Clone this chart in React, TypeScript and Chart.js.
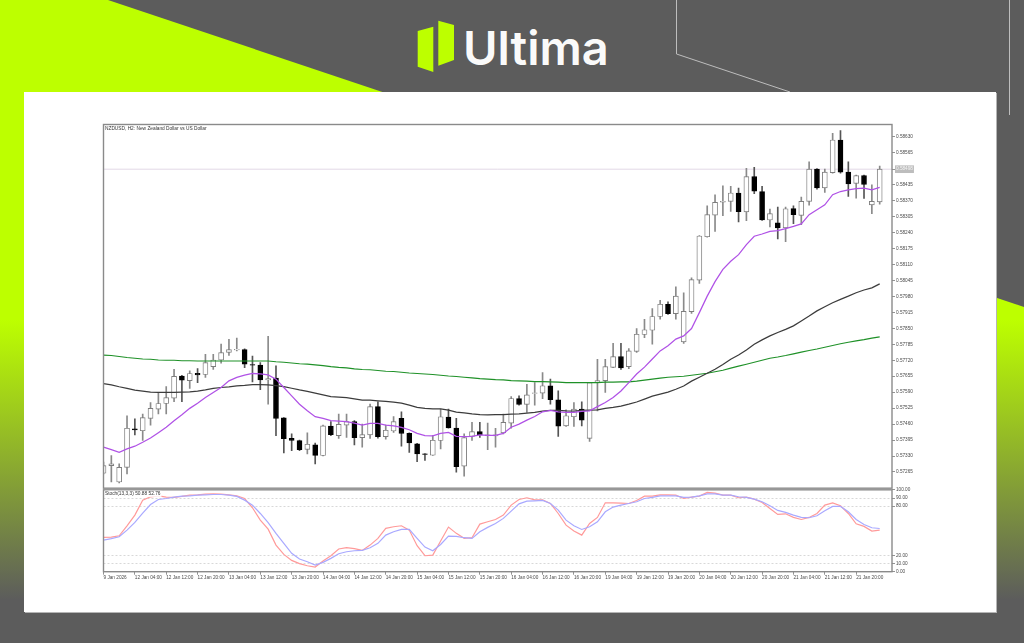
import React, { useEffect, useRef } from "react";
import { Chart, registerables } from "chart.js";

Chart.register(...registerables);

const chartTitle = "NZDUSD, H2: New Zealand Dollar vs US Dollar";
const stochTitle = "Stoch(13,3,3) 50.88 52.76";
const brandName = "Ultima";

const opens = [
  0.5726, 0.57291, 0.57224, 0.57284, 0.57441, 0.57433, 0.57483, 0.57521, 0.57544, 0.57566,
  0.57655, 0.57637, 0.57667, 0.57662, 0.57694, 0.57721, 0.57752, 0.57762, 0.57763, 0.57702,
  0.577, 0.5764, 0.57647, 0.57485, 0.57402, 0.57393, 0.57357, 0.57376, 0.57332, 0.57452,
  0.57413, 0.57456, 0.5747, 0.57405, 0.57416, 0.57531, 0.57409, 0.57432, 0.57483, 0.57422,
  0.5738, 0.57339, 0.57333, 0.57393, 0.57489, 0.57444, 0.57289, 0.5741, 0.57429, 0.57413,
  0.57412, 0.57424, 0.57464, 0.57564, 0.5754, 0.57585, 0.57586, 0.57616, 0.57559, 0.57453,
  0.5749, 0.57521, 0.57402, 0.57629, 0.57637, 0.57691, 0.57735, 0.57694, 0.57756, 0.57825,
  0.57842, 0.57898, 0.57948, 0.5791, 0.57795, 0.57918, 0.58046, 0.58223, 0.58311, 0.58364,
  0.58367, 0.58401, 0.58324, 0.58468, 0.58407, 0.58291, 0.5828, 0.58259, 0.58338, 0.5831,
  0.58367, 0.58498, 0.58422, 0.58484, 0.58617, 0.58486, 0.5844, 0.58472, 0.58353, 0.58365,
];
const highs = [
  0.57305, 0.57332, 0.57298, 0.57494, 0.57481, 0.57501, 0.57548, 0.57589, 0.57613, 0.57683,
  0.57659, 0.57677, 0.57686, 0.57744, 0.57744, 0.57786, 0.57805, 0.5781, 0.57766, 0.57737,
  0.5771, 0.57817, 0.57697, 0.57487, 0.5742, 0.57395, 0.57424, 0.57383, 0.57456, 0.5747,
  0.57501, 0.57501, 0.57474, 0.5746, 0.57541, 0.57551, 0.57456, 0.57491, 0.5751, 0.57424,
  0.57382, 0.5734, 0.57413, 0.57521, 0.57521, 0.57483, 0.5742, 0.57467, 0.57467, 0.57464,
  0.57443, 0.57501, 0.57572, 0.57575, 0.57622, 0.57629, 0.5767, 0.57643, 0.57595, 0.57518,
  0.57548, 0.57551, 0.5763, 0.57724, 0.57724, 0.57789, 0.57789, 0.57767, 0.57849, 0.57887,
  0.5793, 0.57964, 0.57958, 0.58019, 0.57995, 0.58056, 0.58228, 0.58349, 0.58394, 0.5843,
  0.58428, 0.58421, 0.58502, 0.58506, 0.58428, 0.58336, 0.58344, 0.58344, 0.58349, 0.58384,
  0.58528, 0.58501, 0.58498, 0.58644, 0.58655, 0.58528, 0.58474, 0.58474, 0.58434, 0.58511,
];
const lows = [
  0.57257, 0.57224, 0.5722, 0.57257, 0.57416, 0.57393, 0.57456, 0.57501, 0.57501, 0.57551,
  0.57551, 0.57605, 0.57629, 0.5765, 0.57683, 0.57708, 0.5774, 0.57758, 0.5769, 0.57632,
  0.576, 0.57541, 0.57413, 0.57343, 0.57352, 0.57352, 0.57339, 0.57298, 0.5733, 0.57413,
  0.57402, 0.57406, 0.57375, 0.57366, 0.57402, 0.57403, 0.57399, 0.57426, 0.5737, 0.57345,
  0.57307, 0.57312, 0.57332, 0.57359, 0.57443, 0.57264, 0.57248, 0.57393, 0.57406, 0.57356,
  0.57366, 0.5742, 0.57443, 0.57537, 0.57508, 0.57537, 0.57564, 0.57541, 0.5741, 0.57451,
  0.57451, 0.57453, 0.57389, 0.57514, 0.57589, 0.5769, 0.57683, 0.57686, 0.57752, 0.57812,
  0.57785, 0.57887, 0.57907, 0.57887, 0.57789, 0.57911, 0.58033, 0.58221, 0.58245, 0.58309,
  0.58326, 0.58283, 0.58288, 0.58398, 0.58289, 0.58263, 0.58214, 0.58203, 0.58276, 0.58272,
  0.58351, 0.58417, 0.58403, 0.58482, 0.58482, 0.58387, 0.5838, 0.58379, 0.58317, 0.58356,
];
const closes = [
  0.57291, 0.57298, 0.57284, 0.57443, 0.57436, 0.57486, 0.57524, 0.57544, 0.57568, 0.57654,
  0.57639, 0.57666, 0.5766, 0.5771, 0.57721, 0.57751, 0.57763, 0.57764, 0.57704, 0.577,
  0.5764, 0.57645, 0.57483, 0.57401, 0.57394, 0.57356, 0.57378, 0.57332, 0.57453, 0.57417,
  0.57459, 0.5747, 0.57405, 0.57417, 0.57531, 0.57409, 0.57435, 0.5747, 0.57422, 0.57383,
  0.57339, 0.57336, 0.57394, 0.5749, 0.57444, 0.57287, 0.57405, 0.57429, 0.57416, 0.57416,
  0.57416, 0.57467, 0.57564, 0.5754, 0.57579, 0.57587, 0.57616, 0.57559, 0.57452, 0.57494,
  0.57521, 0.57476, 0.57629, 0.57637, 0.57694, 0.57735, 0.57689, 0.57758, 0.57826, 0.57844,
  0.57898, 0.57948, 0.5791, 0.57981, 0.57919, 0.58048, 0.58226, 0.58313, 0.58363, 0.58367,
  0.58401, 0.58325, 0.58468, 0.58409, 0.58291, 0.58317, 0.58259, 0.58337, 0.58313, 0.58367,
  0.58498, 0.58422, 0.58486, 0.58617, 0.58486, 0.58438, 0.58472, 0.58436, 0.58367, 0.58498,
];
const maFast = [
  0.57366, 0.57356, 0.57345, 0.57359, 0.5737, 0.57386, 0.57403, 0.57425, 0.57447, 0.57474,
  0.57498, 0.57524, 0.57545, 0.57568, 0.57589, 0.57609, 0.57636, 0.5765, 0.57659, 0.57666,
  0.57664, 0.5766, 0.57643, 0.57609, 0.57575, 0.57541, 0.57514, 0.5749, 0.57483, 0.57474,
  0.57472, 0.5747, 0.57464, 0.57456, 0.57463, 0.57463, 0.57456, 0.57453, 0.57447, 0.57437,
  0.57422, 0.57413, 0.57412, 0.57422, 0.57426, 0.5741, 0.57409, 0.5741, 0.57416, 0.57414,
  0.57414, 0.57422, 0.57447, 0.5746, 0.57476, 0.57491, 0.5751, 0.57516, 0.5751, 0.57508,
  0.57508, 0.57512, 0.57514, 0.57531, 0.57548, 0.57568, 0.57595, 0.57629, 0.57664, 0.57692,
  0.57725, 0.57758, 0.57779, 0.57806, 0.57819, 0.57849, 0.57914, 0.57981, 0.5804, 0.5809,
  0.58123, 0.5815, 0.58191, 0.58225, 0.58234, 0.58245, 0.58248, 0.58256, 0.58265, 0.58275,
  0.58313, 0.58333, 0.58353, 0.58394, 0.58407, 0.58414, 0.58419, 0.58421, 0.58414, 0.58424,
];
const maMid = [
  0.57625, 0.5762, 0.57612, 0.57605, 0.57598, 0.57594, 0.5759, 0.57589, 0.57589, 0.57589,
  0.5759, 0.57591, 0.57594, 0.57599, 0.57605, 0.57609, 0.57612, 0.57616, 0.57618, 0.57621,
  0.57621, 0.5762, 0.57617, 0.57613, 0.57606, 0.57599, 0.57593, 0.57586, 0.57579, 0.57572,
  0.5757, 0.57568, 0.57563, 0.57558, 0.57558, 0.57555, 0.57552, 0.57549, 0.57545, 0.57537,
  0.57528, 0.57524, 0.57522, 0.57522, 0.57517, 0.57509, 0.57506, 0.57502, 0.57499, 0.57498,
  0.57499, 0.57499, 0.57501, 0.57502, 0.57505, 0.57508, 0.57513, 0.57516, 0.57516, 0.57514,
  0.57513, 0.57516, 0.57517, 0.57518, 0.57524, 0.57528, 0.57533, 0.57541, 0.5755, 0.57562,
  0.57574, 0.57582, 0.5759, 0.57602, 0.57615, 0.57635, 0.57651, 0.57667, 0.57683, 0.57703,
  0.57724, 0.57741, 0.57762, 0.57785, 0.57803, 0.57819, 0.57833, 0.57846, 0.5786, 0.5788,
  0.579, 0.57921, 0.57938, 0.57954, 0.57968, 0.57981, 0.57995, 0.58006, 0.58015, 0.58031,
];
const maSlow = [
  0.57741, 0.57739, 0.57735, 0.57731, 0.57728, 0.57725, 0.57724, 0.57721, 0.5772, 0.5772,
  0.57718, 0.57718, 0.57717, 0.57717, 0.57717, 0.57717, 0.57717, 0.57717, 0.57717, 0.57717,
  0.57717, 0.57717, 0.57714, 0.57712, 0.57709, 0.57706, 0.57704, 0.57701, 0.57698, 0.57694,
  0.57691, 0.57689, 0.57685, 0.57682, 0.57681, 0.57678, 0.57675, 0.57674, 0.57671, 0.57668,
  0.57666, 0.57664, 0.57662, 0.57659, 0.57656, 0.57654, 0.57651, 0.57648, 0.57645, 0.57643,
  0.57641, 0.5764, 0.57637, 0.57636, 0.57635, 0.57633, 0.57633, 0.57632, 0.57631, 0.57629,
  0.57629, 0.57629, 0.57629, 0.57629, 0.57631, 0.57631, 0.57632, 0.57632, 0.57635, 0.57639,
  0.57643, 0.57647, 0.57651, 0.57653, 0.57655, 0.57659, 0.57663, 0.57667, 0.57673, 0.57679,
  0.57688, 0.57696, 0.57704, 0.57712, 0.5772, 0.57728, 0.57733, 0.57739, 0.57746, 0.57753,
  0.5776, 0.57766, 0.57773, 0.5778, 0.57787, 0.57793, 0.57799, 0.57804, 0.5781, 0.57815,
];
const stochK = [
  41.9, 42.3, 43.9, 56.1, 69.1, 87.4, 91.5, 92.7, 91.1, 90.7,
  91.9, 93.5, 93.9, 94.7, 95.1, 94.7, 93.9, 92.7, 89.4, 78.1,
  63.0, 52.0, 32.5, 21.1, 13.8, 9.8, 7.3, 5.7, 13.0, 19.5,
  27.7, 29.3, 28.1, 26.0, 32.5, 40.7, 52.9, 54.9, 56.1, 50.8,
  31.7, 19.5, 20.3, 37.4, 54.5, 46.8, 40.7, 41.5, 58.1, 61.0,
  63.8, 69.1, 81.3, 88.2, 90.3, 87.8, 87.8, 83.3, 71.1, 56.9,
  49.6, 44.7, 58.9, 66.3, 84.1, 84.1, 83.7, 83.3, 87.0, 92.3,
  92.3, 93.9, 93.9, 93.5, 89.4, 91.1, 92.3, 96.8, 95.9, 93.5,
  93.5, 90.3, 91.1, 88.6, 84.6, 77.2, 69.9, 70.7, 66.3, 63.8,
  66.3, 71.1, 81.3, 84.1, 80.5, 71.1, 58.5, 55.3, 49.6, 50.88,
];
const stochD = [
  38.6, 40.3, 42.7, 50.8, 60.2, 71.6, 82.1, 88.2, 89.4, 91.1,
  92.3, 92.7, 93.5, 93.9, 94.3, 94.3, 93.5, 91.9, 87.4, 81.3,
  71.1, 59.8, 46.8, 34.6, 22.4, 15.5, 12.2, 8.1, 11.4, 16.3,
  22.0, 24.4, 25.6, 26.0, 29.3, 34.6, 44.7, 48.8, 51.6, 51.6,
  40.7, 30.1, 25.6, 33.3, 43.5, 43.1, 41.5, 40.7, 48.8, 54.1,
  58.9, 65.1, 74.0, 82.9, 86.2, 86.6, 87.0, 83.3, 75.2, 63.0,
  56.1, 51.6, 54.9, 61.0, 73.2, 78.9, 81.3, 83.3, 85.4, 89.4,
  90.7, 92.7, 92.7, 92.7, 90.7, 91.1, 92.7, 95.1, 95.1, 93.5,
  93.5, 91.5, 90.7, 88.6, 85.4, 80.5, 74.8, 72.4, 69.1, 66.3,
  65.9, 68.3, 74.4, 79.7, 79.7, 73.2, 63.8, 57.7, 53.7, 52.76,
];
const priceTicks = [
  0.5863, 0.58565, 0.58498, 0.58435, 0.5837, 0.58305, 0.5824, 0.58175, 0.5811, 0.58045, 0.5798,
  0.57915, 0.5785, 0.57785, 0.5772, 0.57655, 0.5759, 0.57525, 0.5746, 0.57395, 0.5733, 0.57265,
];
const stochTicks = [100, 90, 80, 20, 10, 0];
const stochLevels = [90, 80, 20, 10];
const timeLabels = [
  "9 Jan 2026", "12 Jan 04:00", "12 Jan 12:00", "12 Jan 20:00", "13 Jan 04:00", "13 Jan 12:00",
  "13 Jan 20:00", "14 Jan 04:00", "14 Jan 12:00", "14 Jan 20:00", "15 Jan 04:00", "15 Jan 12:00",
  "15 Jan 20:00", "16 Jan 04:00", "16 Jan 12:00", "16 Jan 20:00", "19 Jan 04:00", "19 Jan 12:00",
  "19 Jan 20:00", "20 Jan 04:00", "20 Jan 12:00", "20 Jan 20:00", "21 Jan 04:00", "21 Jan 12:00",
  "21 Jan 20:00",
];
const candlesPerLabel = 4;
const priceMin = 0.57199;
const priceMax = 0.5868;
const xMax = 100.57;
const lastPrice = closes[closes.length - 1];

const tickFont = { family: "'Liberation Sans', sans-serif", size: 4.7 };
const FRAME = "#8a8a8a";

const pts = (arr: number[]) => arr.map((y, x) => ({ x, y }));

const framePlugin = (label: string, labelBg: boolean) => ({
  id: "frame",
  afterDraw(chart: any) {
    const { ctx, chartArea: a } = chart;
    ctx.save();
    ctx.strokeStyle = FRAME;
    ctx.lineWidth = 1.4;
    ctx.strokeRect(a.left, a.top, a.right - a.left, a.bottom - a.top);
    ctx.font = "4.8px 'Liberation Sans', sans-serif";
    ctx.textBaseline = "middle";
    const tx = a.left + 1.5;
    const ty = a.top + 4;
    if (labelBg) {
      ctx.fillStyle = "#fff";
      ctx.fillRect(tx, ty - 3, ctx.measureText(label).width + 1, 6);
    }
    ctx.fillStyle = "#333";
    ctx.fillText(label, tx, ty);
    ctx.restore();
  },
});

const xBase = {
  type: "linear" as const,
  min: 0,
  max: xMax,
  offset: false,
};

function App() {
  const priceRef = useRef<HTMLCanvasElement>(null);
  const stochRef = useRef<HTMLCanvasElement>(null);

  useEffect(() => {
    const wickData = lows.map((l, x) => ({ x, y: [l, highs[x]] }));
    const bodyData = opens.map((o, x) => ({ x, y: [o, closes[x]] }));
    const isUp = (i: number) => closes[i] >= opens[i];

    const price = new Chart(priceRef.current!, {
      type: "bar",
      data: {
        datasets: [
          {
            type: "line",
            label: "MA fast",
            data: pts(maFast),
            borderColor: "#b052e6",
            borderWidth: 1.25,
            pointRadius: 0,
            order: 0,
          },
          {
            type: "line",
            label: "MA mid",
            data: pts(maMid),
            borderColor: "#3c3c3c",
            borderWidth: 1.25,
            pointRadius: 0,
            order: 0,
          },
          {
            type: "line",
            label: "MA slow",
            data: pts(maSlow),
            borderColor: "#1f9128",
            borderWidth: 1.1,
            pointRadius: 0,
            order: 0,
          },
          {
            type: "bar",
            label: "Body",
            data: bodyData as any,
            grouped: false,
            barThickness: 5,
            borderWidth: 0.9,
            borderSkipped: false,
            backgroundColor: opens.map((_, i) => (isUp(i) ? "#ffffff" : "#000000")),
            borderColor: opens.map((_, i) => (isUp(i) ? "#7d7d7d" : "#000000")),
            order: 1,
          },
          {
            type: "bar",
            label: "Wick",
            data: wickData as any,
            grouped: false,
            barThickness: 1,
            borderWidth: 0,
            backgroundColor: opens.map((_, i) => (isUp(i) ? "#8a8a8a" : "#555555")),
            order: 2,
          },
          {
            type: "line",
            label: "Last price",
            data: [
              { x: 0, y: lastPrice },
              { x: xMax, y: lastPrice },
            ],
            borderColor: "#e3d8e6",
            borderWidth: 1,
            pointRadius: 0,
            order: 3,
          },
        ] as any,
      },
      options: {
        responsive: false,
        animation: false,
        layout: { padding: { left: 10.5, top: 4.5, bottom: 2.5, right: 0 } },
        plugins: { legend: { display: false }, tooltip: { enabled: false } },
        scales: {
          x: { ...xBase, display: false, grid: { display: false, offset: false } },
          y: {
            type: "linear",
            position: "right",
            min: priceMin,
            max: priceMax,
            afterBuildTicks: (s: any) => {
              s.ticks = priceTicks.map((value) => ({ value }));
            },
            afterFit: (s: any) => {
              s.width = 31;
            },
            grid: { drawOnChartArea: false, tickLength: 3, color: "#777", lineWidth: 0.8 },
            border: { display: false },
            ticks: {
              font: tickFont,
              padding: 1,
              autoSkip: false,
              color: (c: any) => (c.tick?.value === lastPrice ? "#f4f4f4" : "#4a4a4a"),
              showLabelBackdrop: (c: any) => c.tick?.value === lastPrice,
              backdropColor: "#bdbdbd",
              backdropPadding: 1,
              callback: (v: any) => Number(v).toFixed(5),
            },
          },
        },
      } as any,
      plugins: [framePlugin(chartTitle, false)],
    });

    const stoch = new Chart(stochRef.current!, {
      type: "line",
      data: {
        datasets: [
          {
            label: "%D",
            data: pts(stochD),
            borderColor: "#a9a9ff",
            borderWidth: 1.2,
            pointRadius: 0,
          },
          {
            label: "%K",
            data: pts(stochK),
            borderColor: "#ff9a9a",
            borderWidth: 1.2,
            pointRadius: 0,
          },
        ],
      },
      options: {
        responsive: false,
        animation: false,
        layout: { padding: { left: 10.5, top: 3.6, bottom: 0, right: 0 } },
        plugins: { legend: { display: false }, tooltip: { enabled: false } },
        scales: {
          x: {
            ...xBase,
            afterBuildTicks: (s: any) => {
              s.ticks = timeLabels.map((_, i) => ({ value: i * candlesPerLabel }));
            },
            afterFit: (s: any) => {
              s.height = 18.3;
            },
            grid: { drawOnChartArea: false, tickLength: 3, color: "#777", lineWidth: 0.8 },
            border: { display: false },
            ticks: {
              font: tickFont,
              color: "#4a4a4a",
              padding: 0,
              autoSkip: false,
              maxRotation: 0,
              minRotation: 0,
              align: "start",
              callback: (v: any) => timeLabels[Number(v) / candlesPerLabel],
            },
          },
          y: {
            type: "linear",
            position: "right",
            min: 0,
            max: 100,
            afterBuildTicks: (s: any) => {
              s.ticks = stochTicks.map((value) => ({ value }));
            },
            afterFit: (s: any) => {
              s.width = 31;
            },
            grid: {
              tickLength: 3,
              lineWidth: 0.8,
              color: (c: any) => (stochLevels.includes(c.tick?.value) ? "#cfcfcf" : "transparent"),
              tickColor: "#777",
            },
            border: { display: false, dash: [2, 2] },
            ticks: {
              font: tickFont,
              color: "#4a4a4a",
              padding: 1,
              autoSkip: false,
              callback: (v: any) => Number(v).toFixed(2),
            },
          },
        },
      } as any,
      plugins: [framePlugin(stochTitle, true)],
    });

    return () => {
      price.destroy();
      stoch.destroy();
    };
  }, []);

  const canvasStyle: React.CSSProperties = {
    position: "absolute",
    left: 93,
    filter: "blur(0.3px)",
  };

  return (
    <div
      style={{
        position: "fixed",
        left: 0,
        top: 0,
        width: 1024,
        height: 643,
        overflow: "hidden",
        background: "linear-gradient(180deg, #bdff00 0px, #bdff00 320px, #5c5c5c 600px)",
      }}
    >
      <svg width={1024} height={643} style={{ position: "absolute", left: 0, top: 0 }}>
        <polygon points="108,0 1024,0 1024,307" fill="#5c5c5c" />
        <polyline points="676.5,0 676.5,54 790,92" fill="none" stroke="#bdbdbd" strokeWidth={1} />
        <line x1={1009.5} y1={0} x2={1009.5} y2={115} stroke="#bdbdbd" strokeWidth={1} />
        <polygon points="417.7,31 433.3,26.7 433.3,72 417.7,66.7" fill="#bdff00" />
        <polygon points="438.3,20.7 454,25 454,60 438.3,65.7" fill="#bdff00" />
      </svg>
      <div
        style={{
          position: "absolute",
          left: 463,
          top: 20,
          fontFamily: "Inter, sans-serif",
          fontWeight: 600,
          fontSize: 47,
          lineHeight: "56px",
          color: "#fafafa",
        }}
      >
        {brandName}
      </div>
      <div
        style={{
          position: "absolute",
          left: 24,
          top: 92,
          width: 972,
          height: 520,
          background: "#fff",
          boxShadow: "1px 1px 0 #b5b5b5",
        }}
      />
      <canvas ref={priceRef} width={830} height={372} style={{ ...canvasStyle, top: 120 }} />
      <canvas ref={stochRef} width={830} height={104} style={{ ...canvasStyle, top: 486 }} />
    </div>
  );
}

export default App;
